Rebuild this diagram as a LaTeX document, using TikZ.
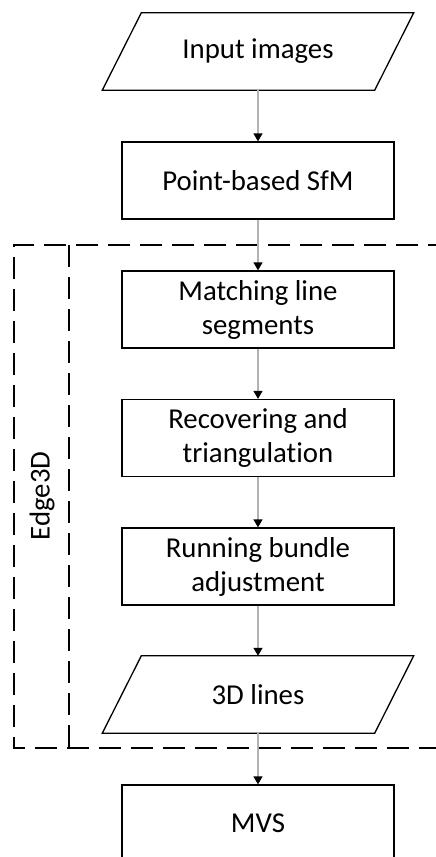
\documentclass[tikz,border=0pt]{standalone}
\usepackage{fontspec}
\setmainfont[Ligatures=NoCommon]{Carlito}
\usetikzlibrary{arrows.meta}
\begin{document}
\begin{tikzpicture}[x=1pt,y=-1pt,
  lbl/.style={font=\fontsize{28.8}{34}\selectfont, align=center},
  boxnode/.style={lbl, draw=black, line width=1.3pt, rectangle, minimum width=272pt, minimum height=77pt, inner sep=0pt},
  paranode/.style={lbl, draw=none, rectangle, minimum width=233pt, minimum height=77pt, inner sep=0pt},
  paraline/.style={draw=black, line width=1.3pt, line join=miter},
  flow/.style={draw=black!30, line width=1.3pt, -{Triangle[color=black,length=8pt,width=9pt]}},
  dashline/.style={draw=black, line width=1.3pt, dash pattern=on 22pt off 10pt}
]
\useasboundingbox (0,0) rectangle (436,857);
\clip (0,0) rectangle (436,857);
\fill[white] (0,0) rectangle (436,857);

% group box
\draw[dashline] (450,245) -- (14,245) -- (14,748) -- (450,748);
\draw[dashline] (69,245) -- (69,748);
\node[lbl, rotate=90] (grp) at (42,496) {Edge3D};

% nodes
\node[paranode] (in) at (258,51.5) {Input images};
\draw[paraline] (in.north west) -- ([xshift=39pt]in.north east) -- (in.south east) -- ([xshift=-39pt]in.south west) -- cycle;
\node[boxnode] (sfm) at (258,180.5) {Point-based SfM};
\node[boxnode] (match) at (258,309.5) {Matching line\\segments};
\node[boxnode] (rec) at (258,438) {Recovering and\\triangulation};
\node[boxnode] (ba) at (258,566.5) {Running bundle\\adjustment};
\node[paranode] (lines) at (258,694.5) {3D lines};
\draw[paraline] (lines.north west) -- ([xshift=39pt]lines.north east) -- (lines.south east) -- ([xshift=-39pt]lines.south west) -- cycle;
\node[boxnode] (mvs) at (258,823.5) {MVS};

% connectors
\draw[flow] (in.south) -- (sfm.north);
\draw[flow] (sfm.south) -- (match.north);
\draw[flow] (match.south) -- (rec.north);
\draw[flow] (rec.south) -- (ba.north);
\draw[flow] (ba.south) -- (lines.north);
\draw[flow] (lines.south) -- (mvs.north);
\end{tikzpicture}
\end{document}
